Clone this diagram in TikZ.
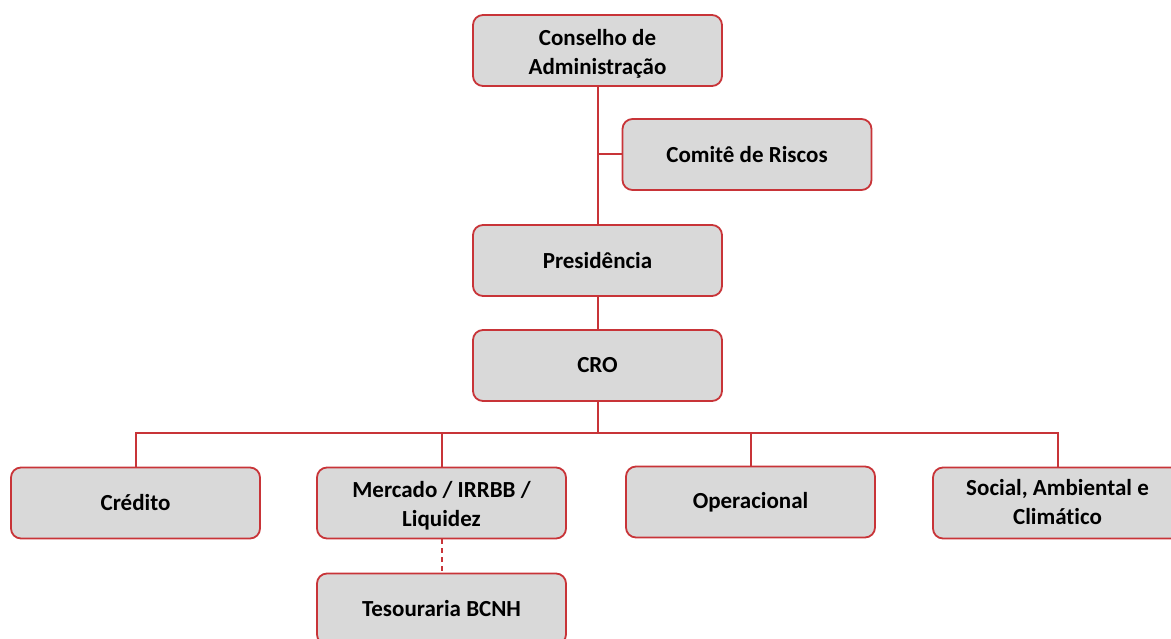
\documentclass[tikz,border=0pt]{standalone}
\usepackage{fontspec}
\setmainfont{Carlito}[Ligatures=NoCommon]
\definecolor{boxred}{RGB}{200,52,56}
\definecolor{boxfill}{RGB}{217,217,217}
\newcommand\lowtext[2]{\raisebox{-#1}[\height][\depth]{\begin{tabular}{@{}c@{}}#2\end{tabular}}}
\tikzset{
  orgbox/.style={draw=boxred, line width=1.8pt, fill=boxfill, rounded corners=10pt,
    minimum width=249pt, minimum height=71pt, inner sep=0pt, align=center,
    font=\bfseries\fontsize{23}{29}\selectfont, text=black},
  link/.style={draw=boxred, line width=2pt},
  dlink/.style={draw=boxred, line width=2pt, dash pattern=on 5pt off 4pt}
}
\begin{document}
\begin{tikzpicture}[x=1pt,y=-1pt]
\useasboundingbox (0,0) rectangle (1171,639);
\clip (0,0) rectangle (1171,639);
\node[orgbox] (cons) at (597.5,50.5) {\lowtext{3.5pt}{Conselho de\\Administração}};
\node[orgbox] (com) at (747,154.5) {Comitê de Riscos};
\node[orgbox] (pres) at (597.5,260.5) {Presidência};
\node[orgbox] (cro) at (597.5,365.5) {CRO};
\node[orgbox] (cred) at (135.5,503) {Crédito};
\node[orgbox] (merc) at (441.5,503) {\lowtext{3pt}{Mercado / IRRBB /\\Liquidez}};
\node[orgbox] (oper) at (750.5,502) {Operacional};
\node[orgbox] (soc) at (1057.5,503) {\lowtext{1pt}{Social, Ambiental e\\Climático}};
\node[orgbox] (tes) at (441.5,609) {Tesouraria BCNH};
\coordinate (bus) at (597.5,433);
\draw[link] (cons.south) -- (pres.north);
\draw[link] (cons.south |- com.west) -- (com.west);
\draw[link] (pres.south) -- (cro.north);
\draw[link] (cro.south) -- (bus);
\draw[link] (cred.north) -- (cred.north |- bus) -- (soc.north |- bus) -- (soc.north);
\draw[link] (merc.north |- bus) -- (merc.north);
\draw[link] (oper.north |- bus) -- (oper.north);
\draw[dlink] (merc.south) -- (tes.north);
\end{tikzpicture}
\end{document}
